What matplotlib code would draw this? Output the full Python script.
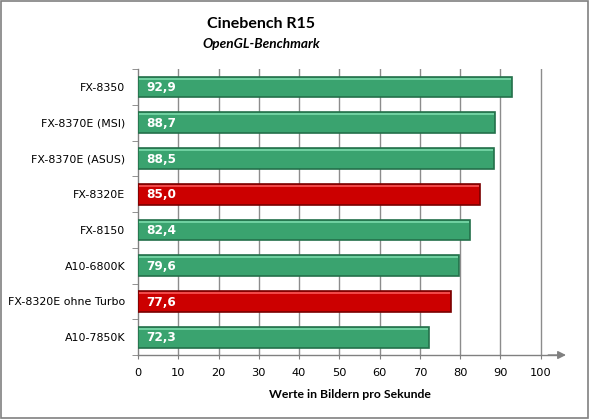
import matplotlib
matplotlib.use("Agg")
import matplotlib.pyplot as plt
import numpy as np
from matplotlib.patches import Rectangle

categories = ["FX-8350", "FX-8370E (MSI)", "FX-8370E (ASUS)", "FX-8320E",
              "FX-8150", "A10-6800K", "FX-8320E ohne Turbo", "A10-7850K"]
values = [92.9, 88.7, 88.5, 85.0, 82.4, 79.6, 77.6, 72.3]
highlight = [False, False, False, True, False, False, True, False]
xticks = [0, 10, 20, 30, 40, 50, 60, 70, 80, 90, 100]

title = "Cinebench R15"
subtitle = "OpenGL-Benchmark"
xlabel = "Werte in Bildern pro Sekunde"

green, green_edge, green_hi = "#3aa36f", "#24704a", "#6fd0a0"
red, red_edge, red_hi = "#cc0000", "#7a0000", "#f04848"

fig = plt.figure(figsize=(5.89, 4.19), dpi=100)
fig.patches.append(Rectangle((0.002, 0.002), 0.996, 0.995, transform=fig.transFigure,
                             fill=False, edgecolor="#808080", linewidth=1.2))

ax = fig.add_axes([0.2343, 0.1527, 0.718, 0.6826])
n = len(categories)
y = np.arange(n)
colors = [red if h else green for h in highlight]
edges = [red_edge if h else green_edge for h in highlight]
his = [red_hi if h else green_hi for h in highlight]

ax.set_xlim(0, 105)
ax.set_ylim(n - 0.5, -0.5)

for xv in xticks[1:]:
    ax.axvline(xv, color="#8c8c8c", linewidth=1.0, zorder=1)

bh = 0.58
ax.barh(y, values, height=bh, color=colors, edgecolor=edges, linewidth=1.2, zorder=3)
ax.barh(y - bh / 2 + 0.06, [v - 0.5 for v in values], height=0.06, left=0.25,
        color=his, linewidth=0, zorder=4)

for yi, v in zip(y, values):
    ax.text(2.0, yi + 0.02, f"{v:.1f}".replace(".", ","), color="white",
            fontsize=8.7, fontweight="bold", va="center", ha="left", zorder=5,
            family="DejaVu Sans")

ax.set_yticks(y)
ax.set_yticklabels(categories, fontsize=7.9, family="DejaVu Sans")
ax.set_yticks(np.arange(n + 1) - 0.5, minor=True)
ax.tick_params(axis="y", which="major", length=0, pad=9)
ax.tick_params(axis="y", which="minor", length=4, color="#808080", direction="out")

ax.set_xticks(xticks)
ax.set_xticklabels([str(t) for t in xticks], fontsize=8.2, family="DejaVu Sans")
ax.tick_params(axis="x", length=3, color="#808080", pad=6)

for s in ["top", "right"]:
    ax.spines[s].set_visible(False)
for s in ["left", "bottom"]:
    ax.spines[s].set_color("#808080")
    ax.spines[s].set_linewidth(1.0)

ax.annotate("", xy=(1.012, 0), xytext=(0.97, 0), xycoords="axes fraction",
            arrowprops=dict(arrowstyle="-|>", color="#808080", lw=1.0,
                            mutation_scale=12, shrinkA=0, shrinkB=0))

ax.set_xlabel(xlabel, fontsize=8.8, fontweight="bold", family="Lato", labelpad=8)
fig.text(0.443, 0.942, title, ha="center", va="center", fontsize=11.5, fontweight="bold", family="Lato")
fig.text(0.443, 0.895, subtitle, ha="center", va="center", fontsize=9.8, fontweight="bold",
         style="italic", family="Lato")

fig.savefig("out.png", dpi=100)
